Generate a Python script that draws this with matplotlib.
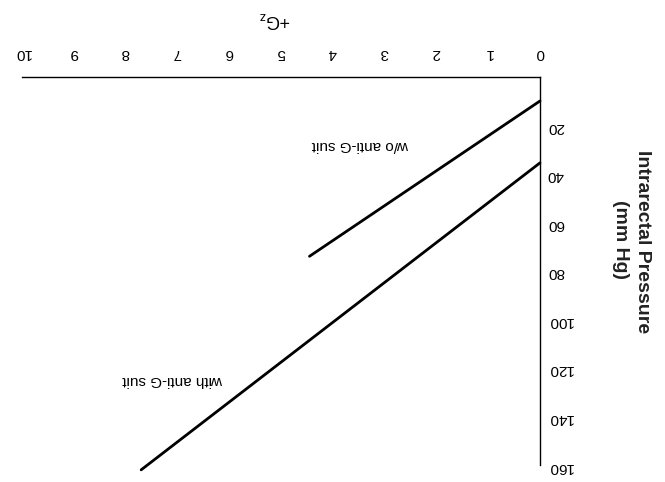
import matplotlib
matplotlib.use("Agg")
import matplotlib.pyplot as plt

plt.rcParams['font.family'] = ['Liberation Sans', 'DejaVu Sans']
plt.rcParams['mathtext.default'] = 'regular'

# Data
x_ticks = [0, 1, 2, 3, 4, 5, 6, 7, 8, 9, 10]
y_ticks = [20, 40, 60, 80, 100, 120, 140, 160]
gz_without = [0, 4.45]
p_without = [10, 74]
gz_with = [0, 7.7]
p_with = [35.5, 162]

W, H = 665, 482
fig = plt.figure(figsize=(W / 100, H / 100), dpi=100)
left, right = 22 / W, 540 / W
top, bottom = (H - 76.7) / H, (H - 465) / H
ax = fig.add_axes([left, bottom, right - left, top - bottom])

ax.plot(gz_without, p_without, color='black', lw=2.0, solid_capstyle='round', clip_on=False)
ax.plot(gz_with, p_with, color='black', lw=2.0, solid_capstyle='round', clip_on=False)

ax.set_xlim(10, 0)
ax.set_ylim(160, 0)
for s in ['left', 'bottom']:
    ax.spines[s].set_visible(False)
for s in ['top', 'right']:
    ax.spines[s].set_linewidth(1.0)

ax.xaxis.tick_top()
ax.yaxis.tick_right()
ax.set_xticks(x_ticks)
ax.set_xticklabels([str(v) for v in x_ticks])
ax.set_yticks(y_ticks)
ax.set_yticklabels([str(v) for v in y_ticks])
ax.tick_params(axis='x', length=0, pad=12, labelsize=11, labelrotation=180)
ax.tick_params(axis='y', length=0, pad=5, labelsize=11, labelrotation=180)

ax.text(3.47, 28, 'w/o anti-G suit', rotation=180, ha='center', va='center', fontsize=11)
ax.text(7.1, 125, 'with anti-G suit', rotation=180, ha='center', va='center', fontsize=11)

fig.text(275 / W, 1 - 20 / H, '+G$_z$', rotation=180, ha='center', va='center', fontsize=13)
fig.text(642 / W, 1 - 242 / H, 'Intrarectal Pressure', rotation=-90, ha='center', va='center',
         fontsize=14, fontweight='bold', color='#222222')
fig.text(621 / W, 1 - 240 / H, '(mm Hg)', rotation=-90, ha='center', va='center',
         fontsize=14, fontweight='bold', color='#222222')

fig.savefig('out.png', dpi=100)
